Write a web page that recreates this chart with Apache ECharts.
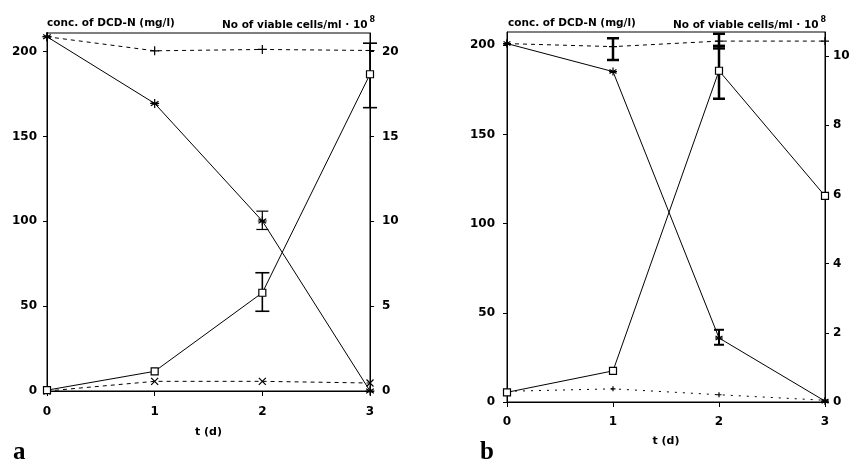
<!DOCTYPE html>
<html>
<head>
<meta charset="utf-8">
<script src="https://cdn.jsdelivr.net/npm/echarts@6/dist/echarts.min.js"></script>
<style>html,body{margin:0;padding:0;background:#fff;}#c{width:855px;height:464px;}</style>
</head>
<body>
<div id="c"></div>
<script>
// ---- data ----
const tDays = [0, 1, 2, 3];
const xTicks = [0, 1, 2, 3];
const leftTicksA = [0, 50, 100, 150, 200];
const rightTicksA = [0, 5, 10, 15, 20];
const leftTicksB = [0, 50, 100, 150, 200];
const rightTicksB = [0, 2, 4, 6, 8, 10];

// panel a
const dcdA = [208.8, 169.5, 100.2, 0];          // conc. of DCD-N (mg/l), asterisk
const cellsA = [0.05, 1.16, 5.79, 18.67];        // viable cells, square
const ctrlDcdA = [208.8, 200.5, 201.3, 200.7];   // plus, dashed
const ctrlCellsA = [0, 0.57, 0.57, 0.47];        // cross, dashed
const errDcdA = [[2, 95.2, 106]];
const errCellsA = [[2, 4.7, 6.97], [3, 16.7, 20.5]];

// panel b
const dcdB = [201, 185.3, 35.9, 0.5];
const cellsB = [0.28, 0.9, 9.58, 5.96];
const ctrlDcdB = [201, 199.3, 202.4, 202.4];
const ctrlCellsB = [0.31, 0.38, 0.21, 0.05];
const errDcdB = [[2, 32.1, 40.5]];
const errCtrlB = [[1, 191.8, 204], [2, 198.3, 206.5]];
const errCellsB = [[2, 8.77, 10.3]];

// ---- chart ----
const FONT = 'DejaVu Sans';
const pair = arr => tDays.map((t, i) => [t, arr[i]]);
const STAR = 'path://M0,-10L0,10M-8.66,-5L8.66,5M-8.66,5L8.66,-5M-10,0L10,0';
const PLUS = 'path://M0,-10L0,10M-10,0L10,0';
const CROSS = 'path://M-10,-10L10,10M-10,10L10,-10';

function xAxisCfg(gi, gap, margin) {
  return {
    gridIndex: gi, type: 'value', min: 0, max: 3, interval: 1,
    name: 't (d)', nameLocation: 'middle', nameGap: gap,
    nameTextStyle: { fontFamily: FONT, fontWeight: 'bold', fontSize: 11, color: '#000' },
    axisLine: { show: true, lineStyle: { color: '#000', width: 1 } },
    axisTick: { show: true, length: 5, customValues: xTicks, lineStyle: { color: '#000' } },
    axisLabel: { fontFamily: FONT, fontWeight: 'bold', fontSize: 12, color: '#000', margin: margin, customValues: xTicks },
    splitLine: { show: false }
  };
}
function yAxisCfg(gi, pos, max, ticks, margin) {
  return {
    gridIndex: gi, type: 'value', position: pos, min: 0, max: max,
    axisLine: { show: true, onZero: false, lineStyle: { color: '#000', width: 1 } },
    axisTick: { show: true, length: 4, customValues: ticks, lineStyle: { color: '#000' } },
    axisLabel: { fontFamily: FONT, fontWeight: 'bold', fontSize: 12, color: '#000', margin: margin,
      customValues: ticks },
    splitLine: { show: false }
  };
}
function lineSeries(xi, yi, data, symbol, size, dashed, fill) {
  return {
    type: 'line', xAxisIndex: xi, yAxisIndex: yi, data: data,
    symbol: symbol, symbolSize: size, showAllSymbol: true, animation: false,
    lineStyle: { color: '#000', width: 1, type: dashed || 'solid' },
    itemStyle: { color: fill || '#fff', borderColor: '#000', borderWidth: 1.2 },
    z: 3
  };
}
function errSeries(xi, yi, data, lw, cap) {
  return {
    type: 'custom', xAxisIndex: xi, yAxisIndex: yi, data: data, animation: false, z: 2,
    encode: { x: 0, y: [1, 2] },
    renderItem: function (params, api) {
      const x = api.value(0);
      const p1 = api.coord([x, api.value(1)]);
      const p2 = api.coord([x, api.value(2)]);
      const st = { stroke: '#000', lineWidth: lw };
      return {
        type: 'group', children: [
          { type: 'line', shape: { x1: p1[0], y1: p1[1], x2: p2[0], y2: p2[1] }, style: st },
          { type: 'line', shape: { x1: p1[0] - cap / 2, y1: p1[1], x2: p1[0] + cap / 2, y2: p1[1] }, style: st },
          { type: 'line', shape: { x1: p2[0] - cap / 2, y1: p2[1], x2: p2[0] + cap / 2, y2: p2[1] }, style: st }
        ]
      };
    }
  };
}

const titleStyle = { fontFamily: FONT, fontWeight: 'bold', fontSize: 10.5, fill: '#000' };
function cellsTitle(x) {
  return {
    type: 'text', left: x, top: 16,
    style: {
      text: '{a|No of viable cells/ml · 10}{s|8}',
      rich: {
        a: { fontFamily: FONT, fontWeight: 'bold', fontSize: 10.5, color: '#000', verticalAlign: 'bottom', lineHeight: 15 },
        s: { fontFamily: FONT, fontWeight: 'bold', fontSize: 8, color: '#000', verticalAlign: 'top', lineHeight: 8, padding: [0, 0, 0, 2] }
      }
    }
  };
}

const option = {
  backgroundColor: '#fff',
  animation: false,
  grid: [
    { left: 47, top: 33, width: 323, height: 358, show: true, borderColor: '#000', borderWidth: 1, backgroundColor: 'transparent' },
    { left: 507, top: 32, width: 318, height: 370, show: true, borderColor: '#000', borderWidth: 1, backgroundColor: 'transparent' }
  ],
  xAxis: [xAxisCfg(0, 36, 15), xAxisCfg(1, 34, 14)],
  yAxis: [
    yAxisCfg(0, 'left', 211, leftTicksA, 10),
    yAxisCfg(0, 'right', 21.1, rightTicksA, 12),
    yAxisCfg(1, 'left', 207.5, leftTicksB, 12),
    yAxisCfg(1, 'right', 10.7, rightTicksB, 8)
  ],
  series: [
    errSeries(0, 0, errDcdA, 1.2, 12),
    errSeries(0, 1, errCellsA, 1.6, 14),
    lineSeries(0, 0, pair(ctrlDcdA), PLUS, 9, [4, 4]),
    lineSeries(0, 1, pair(ctrlCellsA), CROSS, 7, [4, 4]),
    lineSeries(0, 0, pair(dcdA), STAR, 9, 'solid', '#000'),
    lineSeries(0, 1, pair(cellsA), 'rect', 7, 'solid'),

    errSeries(1, 2, errDcdB, 2, 10),
    errSeries(1, 2, errCtrlB, 2.5, 12),
    errSeries(1, 3, errCellsB, 2.5, 12),
    lineSeries(1, 2, pair(ctrlDcdB), PLUS, 8, [4, 4]),
    lineSeries(1, 3, pair(ctrlCellsB), PLUS, 5, [2, 6]),
    lineSeries(1, 2, pair(dcdB), STAR, 8, 'solid', '#000'),
    lineSeries(1, 3, pair(cellsB), 'rect', 7, 'solid')
  ],
  graphic: [
    { type: 'text', left: 47, top: 18, style: Object.assign({ text: 'conc. of DCD-N (mg/l)' }, titleStyle) },
    cellsTitle(222),
    { type: 'text', left: 508, top: 18, style: Object.assign({ text: 'conc. of DCD-N (mg/l)' }, titleStyle) },
    cellsTitle(673),
    { type: 'text', left: 13, top: 440, style: { text: 'a', fontFamily: 'Liberation Serif', fontWeight: 'bold', fontSize: 25, fill: '#000' } },
    { type: 'text', left: 480, top: 440, style: { text: 'b', fontFamily: 'Liberation Serif', fontWeight: 'bold', fontSize: 25, fill: '#000' } }
  ]
};

const chart = echarts.init(document.getElementById('c'), null, { renderer: 'canvas' });
chart.setOption(option);
</script>
</body>
</html>
